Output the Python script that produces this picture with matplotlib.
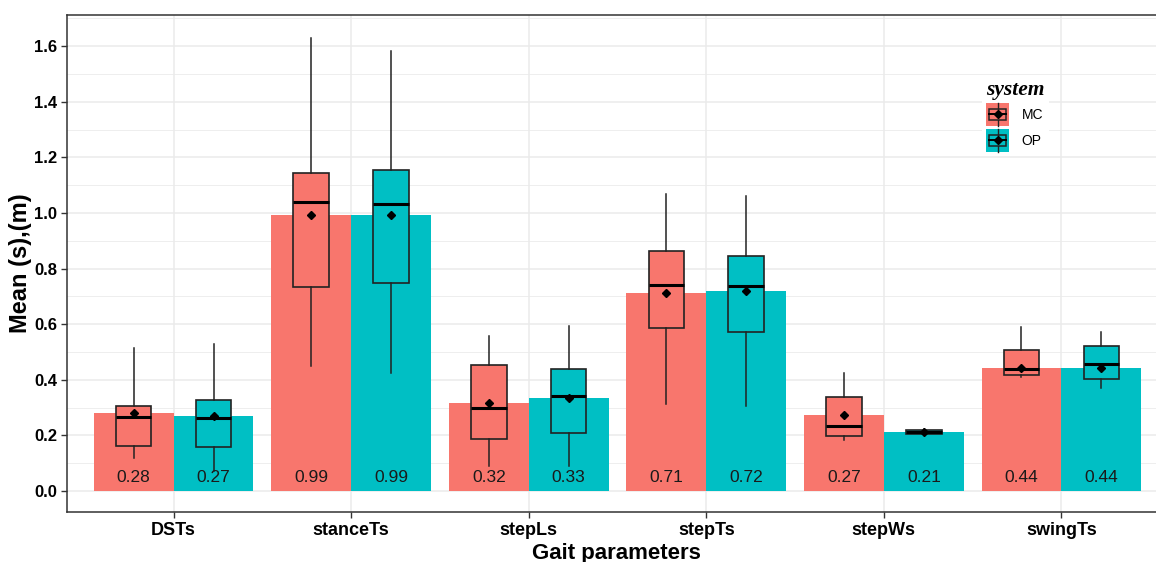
import numpy as np
import matplotlib
matplotlib.use('agg')
import matplotlib.pyplot as plt
from matplotlib.patches import Rectangle
from matplotlib.lines import Line2D
from matplotlib.legend_handler import HandlerBase

plt.rcParams['font.family'] = ['Liberation Sans', 'DejaVu Sans']

params = ['DSTs', 'stanceTs', 'stepLs', 'stepTs', 'stepWs', 'swingTs']
systems = ['MC', 'OP']
colors = ['#F8766D', '#00BFC4']

# bar heights = means
mean_mc = [0.282, 0.993, 0.318, 0.713, 0.274, 0.441]
mean_op = [0.270, 0.991, 0.334, 0.720, 0.211, 0.441]

# box stats: whisker low, q1, median, q3, whisker high
box_mc = [
    [0.120, 0.161, 0.267, 0.306, 0.514],
    [0.448, 0.732, 1.041, 1.145, 1.629],
    [0.088, 0.186, 0.299, 0.453, 0.556],
    [0.311, 0.587, 0.741, 0.862, 1.069],
    [0.183, 0.198, 0.234, 0.338, 0.425],
    [0.410, 0.416, 0.438, 0.506, 0.589],
]
box_op = [
    [0.073, 0.157, 0.263, 0.327, 0.529],
    [0.424, 0.748, 1.033, 1.153, 1.583],
    [0.088, 0.207, 0.343, 0.440, 0.592],
    [0.304, 0.571, 0.738, 0.844, 1.061],
    [0.200, 0.205, 0.213, 0.220, 0.222],
    [0.370, 0.403, 0.457, 0.523, 0.572],
]


class BoxKey(HandlerBase):
    # legend key: filled square with a small boxplot glyph
    def create_artists(self, legend, orig_handle, xdescent, ydescent,
                       width, height, fontsize, trans):
        x0, y0 = -xdescent, -ydescent
        fc = orig_handle.get_facecolor()
        bg = Rectangle((x0, y0), width, height, facecolor=fc, edgecolor='none', transform=trans)
        bx = Rectangle((x0 + 0.12 * width, y0 + 0.25 * height), 0.76 * width, 0.5 * height,
                       facecolor='none', edgecolor='#222222', lw=1.1, transform=trans)
        med = Line2D([x0 + 0.12 * width, x0 + 0.88 * width], [y0 + 0.5 * height] * 2,
                     color='black', lw=1.4, transform=trans)
        w1 = Line2D([x0 + 0.5 * width] * 2, [y0, y0 + 0.25 * height], color='#222222', lw=1, transform=trans)
        w2 = Line2D([x0 + 0.5 * width] * 2, [y0 + 0.75 * height, y0 + height], color='#222222', lw=1, transform=trans)
        pt = Line2D([x0 + 0.5 * width], [y0 + 0.5 * height], marker='D', markersize=4,
                    color='black', transform=trans)
        return [bg, bx, med, w1, w2, pt]


fig = plt.figure(figsize=(11.56, 5.62), dpi=100)
ax = fig.add_axes([67 / 1156, 50 / 562, 1101 / 1156, 497 / 562])

x = np.arange(1, len(params) + 1)
bw = 0.45
means = [mean_mc, mean_op]
boxes = [box_mc, box_op]

for k in range(2):
    pos = x + (k - 0.5) * bw
    ax.bar(pos, means[k], width=bw, color=colors[k], zorder=2, linewidth=0)
    stats = []
    for j in range(len(params)):
        b = boxes[k][j]
        stats.append(dict(whislo=b[0], q1=b[1], med=b[2], q3=b[3], whishi=b[4],
                          mean=means[k][j], fliers=[]))
    ax.bxp(stats, positions=pos, widths=0.2, patch_artist=True, showcaps=False,
           showmeans=True, manage_ticks=False,
           boxprops=dict(facecolor=colors[k], edgecolor='#222222', lw=1.2),
           whiskerprops=dict(color='#222222', lw=1.1),
           medianprops=dict(color='black', lw=2.2),
           meanprops=dict(marker='D', markerfacecolor='black', markeredgecolor='black',
                          markersize=4.5),
           zorder=3)
    for j in range(len(params)):
        ax.text(pos[j], 0.047, f'{means[k][j]:.2f}', ha='center', va='center',
                fontsize=12.5, color='#1a1a1a', zorder=4)

ax.set_xlim(0.4, 6.6)
ax.set_ylim(-0.0757, 1.712)
ax.set_xticks(x)
ax.set_xticklabels(params, fontsize=13, fontweight='bold')
ax.set_yticks(np.arange(0, 1.61, 0.2))
ax.set_yticks(np.arange(0.1, 1.71, 0.2), minor=True)
ax.set_yticklabels([f'{v:.1f}' for v in np.arange(0, 1.61, 0.2)], fontsize=12, fontweight='bold')
ax.tick_params(axis='both', which='major', length=4, width=1, color='#333333', pad=3)
ax.tick_params(axis='y', which='minor', length=0)
ax.grid(True, which='major', color='#EBEBEB', lw=1.1, zorder=0)
ax.grid(True, which='minor', axis='y', color='#EBEBEB', lw=0.6, zorder=0)
ax.set_axisbelow(True)
for s in ax.spines.values():
    s.set_color('#333333')
    s.set_linewidth(1.1)

ax.set_xlabel('Gait parameters', fontsize=16, fontweight='bold', va='baseline')
ax.xaxis.set_label_coords((616 - 67) / 1101, (512 - 559) / 497)
ax.set_ylabel('Mean (s),(m)', fontsize=17, fontweight='bold')
ax.yaxis.set_label_coords((32 - 67) / 1101, 0.5)

handles = [Rectangle((0, 0), 1, 1, facecolor=c) for c in colors]
leg = ax.legend(handles, systems, handler_map={Rectangle: BoxKey()},
                loc='upper left', bbox_to_anchor=(975 / 1156, 1 - 69 / 562),
                bbox_transform=fig.transFigure, frameon=True, fancybox=False,
                edgecolor='none', facecolor='white', framealpha=1,
                fontsize=10, handlelength=1.66, handleheight=2.18, labelspacing=0.2,
                handletextpad=0.9, borderpad=0.3, alignment='left',
                title='system',
                title_fontproperties=dict(family='Liberation Serif', weight='bold',
                                          style='italic', size=15.5))
leg._legend_box.sep = 2

fig.savefig('out.png', dpi=100)
